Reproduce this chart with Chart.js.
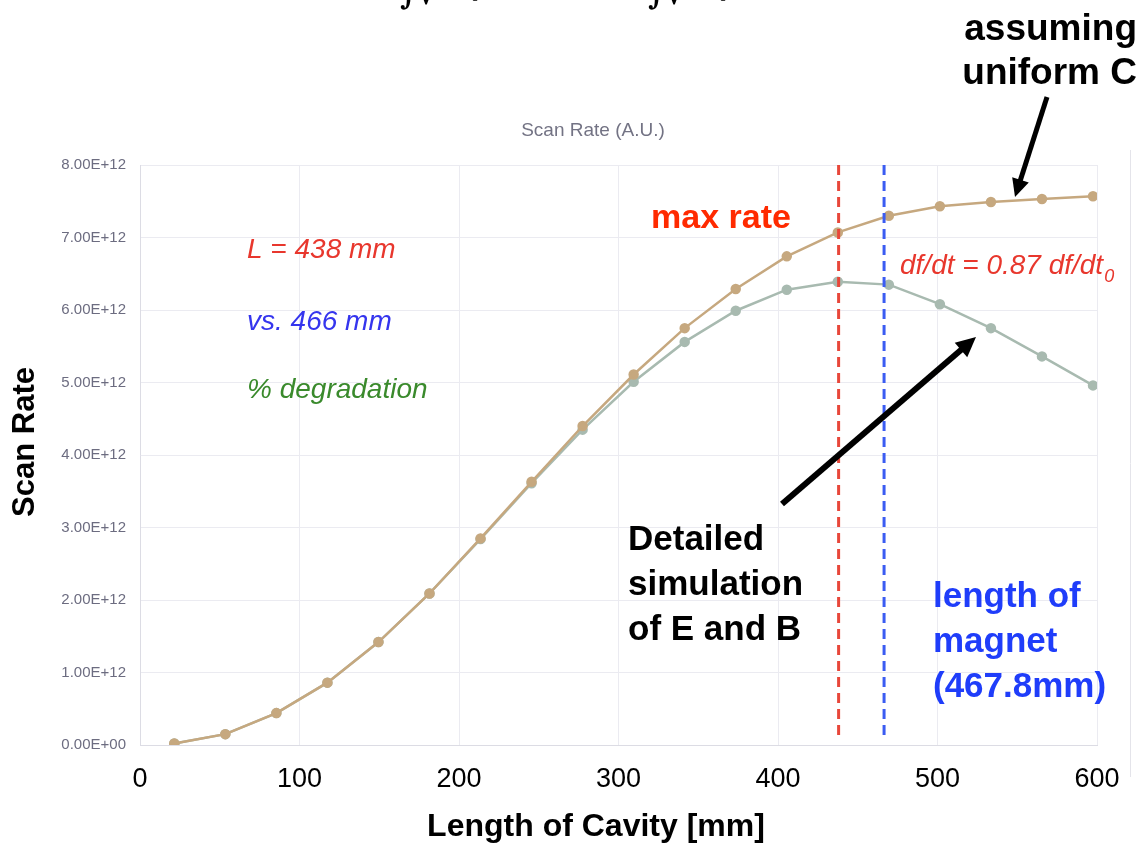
<!DOCTYPE html>
<html>
<head>
<meta charset="utf-8">
<script src="https://cdn.jsdelivr.net/npm/chart.js@4.4.1/dist/chart.umd.min.js"></script>
<style>
  html, body { margin: 0; padding: 0; background: #fff; }
  canvas { display: block; }
</style>
</head>
<body>
<canvas id="grafico" width="1139" height="843"></canvas>
<script>
// ---------- dados ----------
const cavityLength = [21.5, 53.5, 85.5, 117.5, 149.5, 181.5, 213.5, 245.5, 277.5, 309.5,
                      341.5, 373.5, 405.5, 437.5, 469.5, 501.5, 533.5, 565.5, 597.5];
const rateUniformC = [0.02e12, 0.15e12, 0.44e12, 0.86e12, 1.42e12, 2.09e12, 2.85e12, 3.63e12, 4.40e12, 5.11e12,
                      5.75e12, 6.29e12, 6.74e12, 7.07e12, 7.30e12, 7.43e12, 7.49e12, 7.53e12, 7.57e12];
const rateDetailed = [0.02e12, 0.15e12, 0.44e12, 0.86e12, 1.42e12, 2.09e12, 2.84e12, 3.61e12, 4.35e12, 5.01e12,
                      5.56e12, 5.99e12, 6.28e12, 6.39e12, 6.35e12, 6.08e12, 5.75e12, 5.36e12, 4.96e12];
const xTicks = [0, 100, 200, 300, 400, 500, 600];
const yTicks = [0, 1e12, 2e12, 3e12, 4e12, 5e12, 6e12, 7e12, 8e12];
const maxRateLength = 438;     // linha vermelha
const magnetLength = 466.5;    // linha azul

const BROWN = "#c6a87f";
const GREEN_GRAY = "#a8bab0";

function fmtExp(v) {
  const [m, e] = v.toExponential(2).split("e");
  const sign = e[0] === "-" ? "-" : "+";
  const digits = e.replace(/[+-]/, "").padStart(2, "0");
  return `${m}E${sign}${digits}`;
}

function toPoints(xs, ys) {
  return xs.map((x, i) => ({ x, y: ys[i] }));
}

// ---------- anotações (textos, setas, linhas tracejadas) ----------
function arrow(ctx, x1, y1, x2, y2, width, head) {
  const ang = Math.atan2(y2 - y1, x2 - x1);
  ctx.save();
  ctx.strokeStyle = "#000";
  ctx.fillStyle = "#000";
  ctx.lineWidth = width;
  ctx.beginPath();
  ctx.moveTo(x1, y1);
  ctx.lineTo(x2 - Math.cos(ang) * head * 0.8, y2 - Math.sin(ang) * head * 0.8);
  ctx.stroke();
  ctx.beginPath();
  ctx.moveTo(x2, y2);
  ctx.lineTo(x2 - head * Math.cos(ang - 0.45), y2 - head * Math.sin(ang - 0.45));
  ctx.lineTo(x2 - head * Math.cos(ang + 0.45), y2 - head * Math.sin(ang + 0.45));
  ctx.closePath();
  ctx.fill();
  ctx.restore();
}

function text(ctx, str, x, y, font, color, align) {
  ctx.font = font;
  ctx.fillStyle = color;
  ctx.textAlign = align || "left";
  ctx.textBaseline = "alphabetic";
  ctx.fillText(str, x, y);
}

const annotations = {
  id: "annotations",
  afterDatasetsDraw(chart) {
    const ctx = chart.ctx;
    const xs = chart.scales.x;
    const area = chart.chartArea;

    // linhas tracejadas verticais
    [[maxRateLength, "#e8473a"], [magnetLength, "#3b5cf2"]].forEach(([v, c]) => {
      const px = xs.getPixelForValue(v);
      ctx.save();
      ctx.strokeStyle = c;
      ctx.lineWidth = 3;
      ctx.setLineDash([10, 6]);
      ctx.beginPath();
      ctx.moveTo(px, area.top);
      ctx.lineTo(px, area.bottom - 6);
      ctx.stroke();
      ctx.restore();
    });
  },
  afterDraw(chart) {
    const ctx = chart.ctx;
    ctx.save();

    // borda clara à direita
    ctx.strokeStyle = "#e4e4ea";
    ctx.lineWidth = 1;
    ctx.beginPath();
    ctx.moveTo(1130.5, 150);
    ctx.lineTo(1130.5, 777);
    ctx.stroke();

    // fórmula cortada no topo
    text(ctx, "∫√", 400, 4, "italic bold 30px 'DejaVu Serif'", "#000");
    text(ctx, "0", 470, 1, "16px 'DejaVu Serif'", "#000");
    text(ctx, "∫√", 648, 4, "italic bold 30px 'DejaVu Serif'", "#000");
    text(ctx, "0", 718, 1, "16px 'DejaVu Serif'", "#000");

    // título do gráfico
    text(ctx, "Scan Rate (A.U.)", 593, 136, "19px 'Liberation Sans'", "#737384", "center");

    // títulos dos eixos
    text(ctx, "Length of Cavity [mm]", 596, 836, "bold 32px 'Liberation Sans'", "#000", "center");
    ctx.save();
    ctx.translate(34, 442);
    ctx.rotate(-Math.PI / 2);
    text(ctx, "Scan Rate", 0, 0, "bold 31px 'Liberation Sans'", "#000", "center");
    ctx.restore();

    // textos internos
    text(ctx, "L = 438 mm", 247, 258, "italic 28px 'Liberation Sans'", "#e8372d");
    text(ctx, "vs. 466 mm", 247, 330, "italic 28px 'Liberation Sans'", "#3535ee");
    text(ctx, "% degradation", 247, 398, "italic 28px 'Liberation Sans'", "#3a8a2c");
    text(ctx, "max rate", 651, 228, "bold 34px 'Liberation Sans'", "#ff2a00");
    text(ctx, "df/dt = 0.87 df/dt", 900, 274, "italic 28px 'Liberation Sans'", "#e8372d");
    ctx.font = "italic 28px 'Liberation Sans'";
    const w = ctx.measureText("df/dt = 0.87 df/dt").width;
    text(ctx, "0", 900 + w + 1, 282, "italic 18px 'Liberation Sans'", "#e8372d");

    text(ctx, "assuming", 1137, 40, "bold 37px 'Liberation Sans'", "#000", "right");
    text(ctx, "uniform C", 1137, 84, "bold 37px 'Liberation Sans'", "#000", "right");

    ["Detailed", "simulation", "of E and B"].forEach((s, i) =>
      text(ctx, s, 628, 550 + i * 45, "bold 35px 'Liberation Sans'", "#000"));
    ["length of", "magnet", "(467.8mm)"].forEach((s, i) =>
      text(ctx, s, 933, 607 + i * 45, "bold 35px 'Liberation Sans'", "#1f3dfa"));

    // setas
    arrow(ctx, 1047, 97, 1015, 197, 5, 20);
    arrow(ctx, 782, 504, 976, 337, 6, 22);

    ctx.restore();
  }
};

// ---------- gráfico ----------
const ctx = document.getElementById("grafico").getContext("2d");
new Chart(ctx, {
  type: "line",
  data: {
    datasets: [
      {
        label: "Uniform C",
        data: toPoints(cavityLength, rateUniformC),
        borderColor: BROWN,
        backgroundColor: BROWN,
        borderWidth: 2.5,
        pointRadius: 4,
        pointHoverRadius: 4,
        fill: false,
        tension: 0
      },
      {
        label: "Detailed simulation",
        data: toPoints(cavityLength, rateDetailed),
        borderColor: GREEN_GRAY,
        backgroundColor: GREEN_GRAY,
        borderWidth: 2.5,
        pointRadius: 4,
        pointHoverRadius: 4,
        fill: false,
        tension: 0
      }
    ]
  },
  options: {
    responsive: false,
    animation: false,
    layout: { padding: { top: 165, right: 42, left: 0, bottom: 0 } },
    plugins: {
      legend: { display: false },
      title: { display: false },
      tooltip: { enabled: false }
    },
    scales: {
      x: {
        type: "linear",
        min: 0,
        max: 600,
        afterFit(scale) { scale.height = 98; },
        afterBuildTicks(scale) { scale.ticks = xTicks.map(v => ({ value: v })); },
        grid: { color: "#ebebf1", drawTicks: false },
        border: { color: "#dcdce4" },
        ticks: {
          padding: 18,
          color: "#000",
          font: { family: "'Liberation Sans'", size: 27 },
          callback: v => String(v)
        }
      },
      y: {
        min: 0,
        max: 8e12,
        afterFit(scale) { scale.width = 140; },
        afterBuildTicks(scale) { scale.ticks = yTicks.map(v => ({ value: v })); },
        grid: { color: "#ebebf1", drawTicks: false },
        border: { color: "#dcdce4" },
        ticks: {
          padding: 14,
          color: "#6c6c80",
          font: { family: "'Liberation Sans'", size: 15 },
          callback: v => fmtExp(v)
        }
      }
    }
  },
  plugins: [annotations]
});
</script>
</body>
</html>
